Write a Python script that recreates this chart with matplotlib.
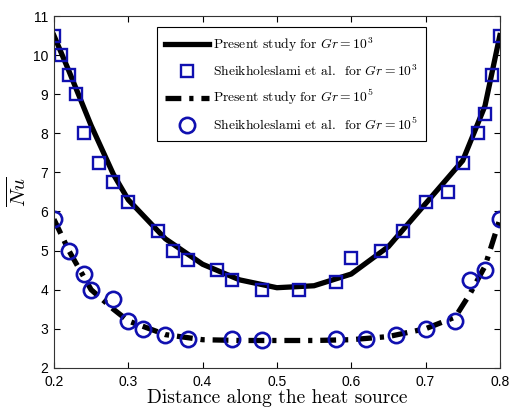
import numpy as np
import matplotlib
matplotlib.use("Agg")
import matplotlib.pyplot as plt

plt.rcParams["mathtext.fontset"] = "cm"

# =========================
# Data
# =========================

# present study, Gr = 10^3 (solid curve)
x_gr3_line = [0.20, 0.22, 0.25, 0.28, 0.30, 0.35, 0.40, 0.45, 0.50, 0.55, 0.60, 0.65, 0.70, 0.75, 0.78, 0.80]
y_gr3_line = [10.5, 9.6, 8.2, 6.95, 6.3, 5.3, 4.65, 4.25, 4.05, 4.1, 4.4, 5.1, 6.2, 7.3, 8.7, 10.5]

# Sheikholeslami et al., Gr = 10^3 (squares)
x_gr3_ref = [0.20, 0.21, 0.22, 0.23, 0.24, 0.26, 0.28, 0.30, 0.34, 0.36, 0.38, 0.42, 0.44,
             0.48, 0.53, 0.58, 0.60, 0.64, 0.67, 0.70, 0.73, 0.75, 0.77, 0.78, 0.79, 0.80]
y_gr3_ref = [10.5, 10.0, 9.5, 9.0, 8.0, 7.25, 6.75, 6.25, 5.5, 5.0, 4.75, 4.5, 4.25,
             4.0, 4.0, 4.2, 4.8, 5.0, 5.5, 6.25, 6.5, 7.25, 8.0, 8.5, 9.5, 10.5]

# present study, Gr = 10^5 (dash-dot curve)
x_gr5_line = [0.20, 0.22, 0.25, 0.28, 0.30, 0.35, 0.40, 0.45, 0.50, 0.55, 0.60, 0.65, 0.70, 0.74, 0.76, 0.78, 0.80]
y_gr5_line = [5.8, 5.0, 4.0, 3.5, 3.2, 2.85, 2.72, 2.7, 2.7, 2.7, 2.72, 2.8, 3.0, 3.3, 3.9, 4.6, 5.8]

# Sheikholeslami et al., Gr = 10^5 (circles)
x_gr5_ref = [0.20, 0.22, 0.24, 0.25, 0.28, 0.30, 0.32, 0.35, 0.38, 0.44, 0.48,
             0.58, 0.62, 0.66, 0.70, 0.74, 0.76, 0.78, 0.80]
y_gr5_ref = [5.8, 5.0, 4.4, 4.0, 3.75, 3.2, 3.0, 2.85, 2.75, 2.75, 2.7,
             2.75, 2.75, 2.85, 3.0, 3.2, 4.25, 4.5, 5.8]

x_ticks = [0.2, 0.3, 0.4, 0.5, 0.6, 0.7, 0.8]
y_ticks = [2, 3, 4, 5, 6, 7, 8, 9, 10, 11]

blue = "#1010b0"

fig = plt.figure(figsize=(5.09, 4.11), dpi=100)
ax = fig.add_axes([0.106, 0.105, 0.876, 0.856])

ax.plot(x_gr3_line, y_gr3_line, color="black", linewidth=3.8,
        label=r"Present study for $Gr = 10^3$")
ax.plot(x_gr3_ref, y_gr3_ref, linestyle="none", marker="s", markersize=9,
        markerfacecolor="none", markeredgecolor=blue, markeredgewidth=1.7,
        label=r"Sheikholeslami et al.  for $Gr = 10^3$")
ax.plot(x_gr5_line, y_gr5_line, color="black", linewidth=3.8,
        linestyle=(0, (3, 1.5, 0.8, 1.5)),
        label=r"Present study for $Gr = 10^5$")
ax.plot(x_gr5_ref, y_gr5_ref, linestyle="none", marker="o", markersize=11,
        markerfacecolor="none", markeredgecolor=blue, markeredgewidth=1.9,
        label=r"Sheikholeslami et al.  for $Gr = 10^5$")

ax.set_xlim(0.2, 0.8)
ax.set_ylim(2, 11)
ax.set_xticks(x_ticks)
ax.set_yticks(y_ticks)
ax.set_xticklabels([f"{v:.1f}" for v in x_ticks], fontfamily="Liberation Sans", fontsize=10)
ax.set_yticklabels([str(v) for v in y_ticks], fontfamily="Liberation Sans", fontsize=10)
ax.tick_params(direction="in", top=True, right=True, length=4, width=0.8)
ax.tick_params(axis="x", pad=5)
ax.tick_params(axis="y", pad=4)
for sp in ax.spines.values():
    sp.set_linewidth(0.8)
    sp.set_color("#333333")

ax.set_xlabel("Distance along the heat source", fontfamily="cmr10", fontsize=14, labelpad=0)
ax.set_ylabel(r"$\overline{Nu}$", fontsize=15, labelpad=2)

leg = ax.legend(loc="upper left", bbox_to_anchor=(0.231, 0.969),
                prop={"family": "cmr10", "size": 9.8},
                handlelength=3.2, handletextpad=0.3, labelspacing=0.7,
                borderpad=0.6, borderaxespad=0,
                fancybox=False, edgecolor="black", framealpha=1)
leg.get_frame().set_linewidth(0.8)

fig.savefig("out.png", dpi=100)
